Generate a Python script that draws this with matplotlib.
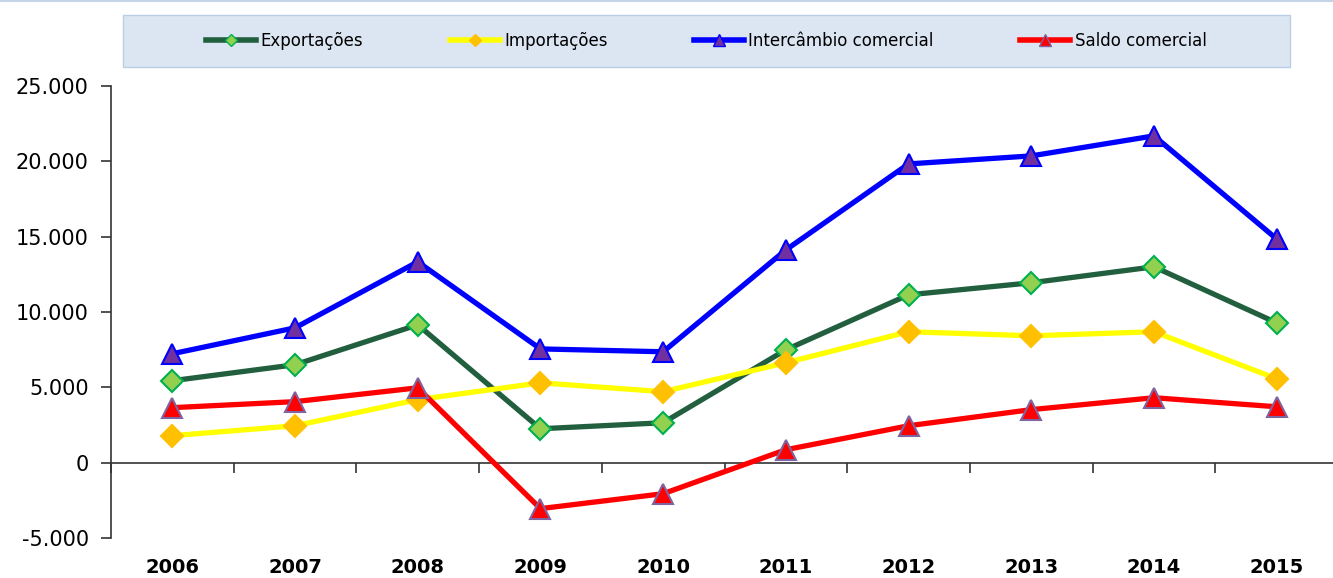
import numpy as np
import matplotlib
matplotlib.use('Agg')
import matplotlib.pyplot as plt
from matplotlib.patches import Rectangle
from matplotlib.lines import Line2D
import matplotlib.transforms as mtransforms

# Data
years = ['2006', '2007', '2008', '2009', '2010', '2011', '2012', '2013', '2014', '2015']
exportacoes = [5440, 6500, 9150, 2250, 2650, 7490, 11140, 11940, 13000, 9280]
importacoes = [1790, 2450, 4180, 5300, 4710, 6630, 8690, 8420, 8690, 5570]
intercambio = [7230, 8950, 13330, 7550, 7360, 14120, 19830, 20360, 21690, 14850]
saldo = [3650, 4050, 4970, -3050, -2060, 860, 2450, 3520, 4310, 3710]
y_ticks = [-5000, 0, 5000, 10000, 15000, 20000, 25000]
y_labels = ['-5.000', '0', '5.000', '10.000', '15.000', '20.000', '25.000']

W, H = 1333, 578
fig = plt.figure(figsize=(W / 100, H / 100), dpi=100)
ax = fig.add_axes([111 / W, 1 - 538 / H, (1338 - 111) / W, (538 - 86) / H])

x = np.arange(len(years))

# series styles: (values, label, line colour, marker, face, edge, size)
series = [
    (exportacoes, 'Exportações', '#215F3E', 'D', '#92D050', '#00B050', 11),
    (importacoes, 'Importações', '#FFFF00', 'D', '#FFC000', '#FFC000', 11),
    (intercambio, 'Intercâmbio comercial', '#0000FF', '^', '#7030A0', '#0000FF', 14),
    (saldo, 'Saldo comercial', '#FF0000', '^', '#FF0000', '#8064A2', 14),
]

handles = []
for i, (vals, lab, lc, mk, fc, ec, ms) in enumerate(series):
    ax.plot(x, vals, color=lc, lw=3.8, marker=mk, ms=ms, mfc=fc, mec=ec,
            mew=1.5, zorder=3 + i, solid_joinstyle='round')
    handles.append(Line2D([], [], color=lc, lw=4, marker=mk, ms=ms * 0.6,
                          mfc=fc, mec=ec, mew=1, label=lab))

ax.set_xlim(-0.5, len(years) - 0.5)
ax.set_ylim(-5000, 25000)
ax.set_yticks(y_ticks)
ax.set_yticklabels(y_labels, fontsize=15)

# x axis line crosses at zero, category labels at the bottom
ax.spines['top'].set_visible(False)
ax.spines['right'].set_visible(False)
ax.spines['bottom'].set_position(('data', 0))
for s in ['left', 'bottom']:
    ax.spines[s].set_color('#333333')
    ax.spines[s].set_linewidth(1.2)
ax.set_xticks(np.arange(len(years) + 1) - 0.5)
ax.set_xticklabels([])
ax.tick_params(axis='x', length=7, direction='out', color='#333333', width=1.2)
ax.tick_params(axis='y', length=7, direction='out', color='#333333', width=1.2, pad=9)

trans = mtransforms.blended_transform_factory(ax.transData, ax.transAxes)
for xi, yr in zip(x, years):
    ax.text(xi, -0.065, yr, transform=trans, ha='center', va='center',
            fontsize=14, fontweight='bold')

# legend box
fig.patches.append(Rectangle((123 / W, 1 - 67 / H), (1290 - 123) / W, 52 / H,
                             transform=fig.transFigure, facecolor='#DCE6F2',
                             edgecolor='#B9CDE5', lw=1, zorder=0))
fig.legend(handles=handles, loc='center', bbox_to_anchor=((123 + 1290) / 2 / W, 1 - 41 / H),
           ncol=4, frameon=False, fontsize=12, handlelength=3.0, handletextpad=0.25,
           columnspacing=5.2)

fig.add_artist(Line2D([0, 1], [1 - 1 / H, 1 - 1 / H], transform=fig.transFigure,
                      color='#C5D5E8', lw=1.5))

fig.savefig('out.png', dpi=100)
